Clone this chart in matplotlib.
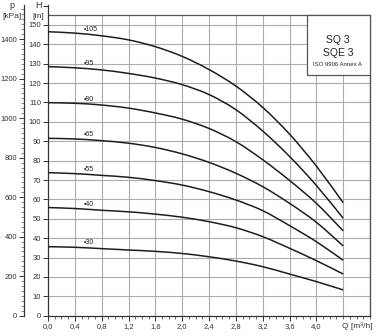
import numpy as np
import matplotlib
matplotlib.use('Agg')
import matplotlib.pyplot as plt
from matplotlib.patches import Rectangle, PathPatch
from matplotlib.path import Path
from matplotlib.ticker import MultipleLocator

plt.rcParams['font.family'] = ['Liberation Sans', 'DejaVu Sans']

# caudal Q [m3/h] y altura H [m] para cada numero de etapas
flow = [0.0, 0.4, 0.8, 1.2, 1.6, 2.0, 2.4, 2.8, 3.2, 3.6, 4.0, 4.4]
head_105 = [146.5, 145.8, 144.4, 142.3, 138.8, 133.8, 127.0, 118.5, 107.5, 93.7, 77.2, 58.3]
head_95 = [128.5, 127.9, 126.8, 125.0, 122.6, 119.2, 114.1, 106.3, 95.3, 82.2, 67.2, 50.3]
head_80 = [109.9, 109.6, 108.7, 107.1, 104.6, 101.4, 96.6, 89.8, 80.5, 69.8, 58.0, 43.8]
head_65 = [91.5, 91.2, 90.3, 89.0, 86.8, 83.5, 79.1, 73.5, 66.6, 58.0, 48.2, 36.0]
head_55 = [73.8, 73.3, 72.4, 71.4, 69.7, 67.4, 64.0, 59.7, 54.2, 46.5, 38.2, 28.6]
head_40 = [55.8, 55.3, 54.4, 53.6, 52.4, 50.8, 48.5, 45.4, 40.8, 34.8, 28.4, 21.5]
head_30 = [35.6, 35.3, 34.6, 33.9, 33.2, 32.1, 30.4, 28.2, 25.3, 21.5, 17.6, 13.3]
curves = [head_105, head_95, head_80, head_65, head_55, head_40, head_30]
stage_labels = ['105', '95', '80', '65', '55', '40', '30']

x_ticks = [0.0, 0.4, 0.8, 1.2, 1.6, 2.0, 2.4, 2.8, 3.2, 3.6, 4.0]
x_tick_labels = ['0,0', '0,4', '0,8', '1,2', '1,6', '2,0', '2,4', '2,8', '3,2', '3,6', '4,0']
h_ticks = list(range(0, 151, 10))
p_ticks = list(range(0, 1401, 200))


def smooth_path(xs, ys):
    # curva suave (Bezier cubica) que pasa por todos los puntos
    pts = np.column_stack([xs, ys])
    verts = [pts[0]]
    codes = [Path.MOVETO]
    n = len(pts)
    for i in range(n - 1):
        p0 = pts[max(i - 1, 0)]
        p1 = pts[i]
        p2 = pts[i + 1]
        p3 = pts[min(i + 2, n - 1)]
        verts += [p1 + (p2 - p0) / 6, p2 - (p3 - p1) / 6, p2]
        codes += [Path.CURVE4] * 3
    return Path(verts, codes)


W, Hpx = 378, 336
fig = plt.figure(figsize=(W / 100, Hpx / 100), dpi=100)
ax = fig.add_axes([48 / W, 1 - 315.7 / Hpx, 322 / W, 310.7 / Hpx])
ax.set_xlim(0, 4.8)
ax.set_ylim(0, 160.3)

gcol = '#ababab'
ax.vlines(np.arange(0.4, 4.81, 0.4), 0, 155, color=gcol, lw=0.8, zorder=1)
ax.hlines(h_ticks[1:], 0, 4.8, color=gcol, lw=0.8, zorder=1)
ax.hlines(155, 0, 4.8, color='#555555', lw=0.9, zorder=2)

for h, lab in zip(curves, stage_labels):
    ax.add_patch(PathPatch(smooth_path(flow, h), facecolor='none', edgecolor='#1e1e1e',
                           lw=1.1, zorder=3))
    hl = np.interp(0.55, flow, h)
    ax.annotate('•' + lab, (0.53, hl), xytext=(0, 3.5), textcoords='offset points',
                fontsize=5, ha='left', va='center', color='#222222')

# marco y ejes
ax.spines['top'].set_visible(False)
ax.spines['right'].set_bounds(0, 155)
ax.spines['right'].set_color('#555555')
ax.spines['right'].set_linewidth(1.0)
for s in ['left', 'bottom']:
    ax.spines[s].set_color('#333333')
    ax.spines[s].set_linewidth(0.9)

ax.set_xticks(x_ticks)
ax.set_xticklabels(x_tick_labels)
ax.xaxis.set_minor_locator(MultipleLocator(0.1))
ax.set_yticks(h_ticks + [160])
ax.set_yticklabels([str(t) for t in h_ticks] + [''])
ax.tick_params(axis='both', which='major', labelsize=5.5, length=3.5, width=0.7,
               color='#333333', labelcolor='#333333', pad=1.5)
ax.tick_params(axis='x', which='minor', length=2, width=0.5, color='#333333')
ax.text(4.38, -5.6, 'Q [m³/h]', fontsize=6, ha='left', va='center', color='#333333',
        clip_on=False)

# eje de presion en kPa
secax = ax.secondary_yaxis(-0.0745, functions=(lambda h: h * 9.81, lambda p: p / 9.81))
secax.set_yticks(p_ticks)
secax.yaxis.set_minor_locator(MultipleLocator(25))
secax.tick_params(axis='y', which='major', labelsize=5.5, length=3.5, width=0.7,
                  color='#333333', labelcolor='#333333', pad=1.5)
secax.tick_params(axis='y', which='minor', length=2, width=0.5, color='#555555')
secax.spines['left'].set_color('#333333')
secax.spines['left'].set_linewidth(0.9)

fig.text(12 / W, 1 - 6 / Hpx, 'p', fontsize=6.5, ha='center', va='center', color='#333333')
fig.text(12 / W, 1 - 16 / Hpx, '[kPa]', fontsize=6, ha='center', va='center', color='#333333')
fig.text(39 / W, 1 - 5 / Hpx, 'H', fontsize=6.5, ha='center', va='center', color='#333333')
fig.text(38 / W, 1 - 16 / Hpx, '[m]', fontsize=6, ha='center', va='center', color='#333333')

# recuadro con el modelo
ax.add_patch(Rectangle((0.803, 0.775), 0.197, 0.193, transform=ax.transAxes,
                       facecolor='white', edgecolor='#555555', lw=0.9, zorder=4))
ax.text(0.90, 0.887, 'SQ 3', transform=ax.transAxes, fontsize=7.5, ha='center',
        va='center', color='#222222', zorder=5)
ax.text(0.90, 0.845, 'SQE 3', transform=ax.transAxes, fontsize=7.5, ha='center',
        va='center', color='#222222', zorder=5)
ax.text(0.90, 0.807, 'ISO 9906 Annex A', transform=ax.transAxes, fontsize=4.3,
        ha='center', va='center', color='#222222', zorder=5)

fig.savefig('out.png', dpi=100)
